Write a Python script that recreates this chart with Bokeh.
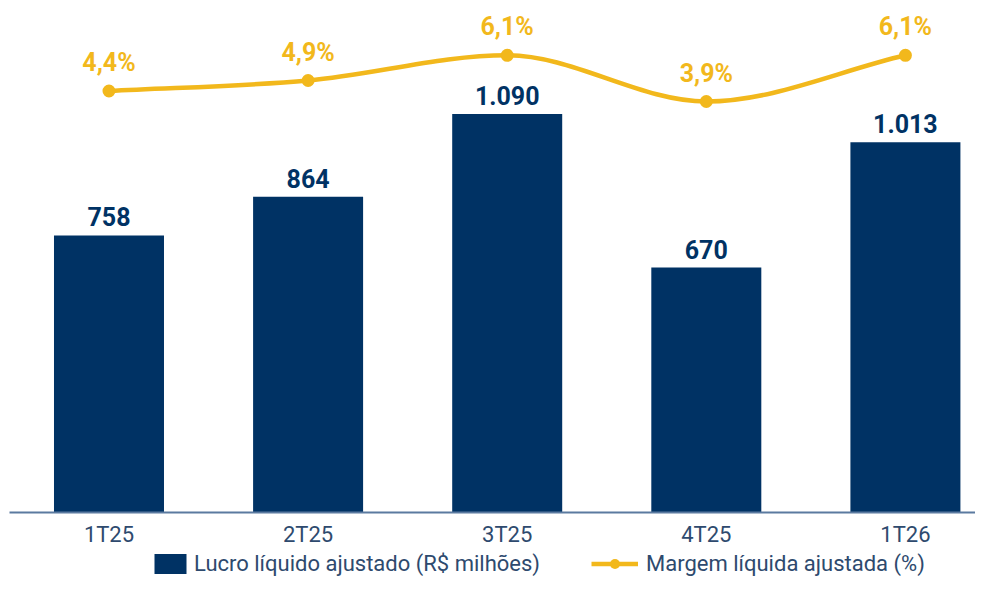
from bokeh.plotting import figure
from bokeh.layouts import column
from bokeh.models import (ColumnDataSource, Range1d, LabelSet, Legend, LegendItem,
                          FixedTicker)
from bokeh.core.properties import value
from bokeh.embed import file_html
from bokeh.resources import INLINE

# ---- data ----
categories = ["1T25", "2T25", "3T25", "4T25", "1T26"]
lucro = [758, 864, 1090, 670, 1013]
lucro_labels = ["758", "864", "1.090", "670", "1.013"]
margem = [4.4, 4.9, 6.1, 3.9, 6.1]
margem_labels = ["4,4%", "4,9%", "6,1%", "3,9%", "6,1%"]
legend_labels = ["Lucro líquido ajustado (R$ milhões)", "Margem líquida ajustada (%)"]

NAVY = "#003264"
YELLOW = "#F2B81C"
TEXT = "#2e4a6e"
FONT = "Roboto"

idx = list(range(len(categories)))

p = figure(frame_width=966, frame_height=512, output_backend="svg", toolbar_location=None,
           x_range=Range1d(-0.4997, 4.352), y_range=Range1d(0, 1400.8),
           y_axis_location=None, min_border_left=9, min_border_right=0,
           min_border_top=0, min_border_bottom=36)
p.outline_line_color = None
p.xgrid.visible = False
p.ygrid.visible = False
p.extra_y_ranges = {"pct": Range1d(-15.67, 8.71)}

# bars
src = ColumnDataSource(dict(x=idx, top=lucro, lab=lucro_labels, m=margem, mlab=margem_labels))
p.vbar(x="x", top="top", width=0.5525, bottom=0, source=src,
       fill_color=NAVY, line_color=None)
p.add_layout(LabelSet(x="x", y="top", text="lab", source=src, y_offset=9,
                      text_align="center", text_baseline="alphabetic",
                      text_font=value(FONT), text_font_style="bold", text_font_size="25px",
                      text_color=NAVY))

# smooth (monotone cubic) line through margin points, drawn as bezier segments
n = len(margem)
d = [margem[k + 1] - margem[k] for k in range(n - 1)]
tang = [d[0]] + [((d[k - 1] + d[k]) / 2 if d[k - 1] * d[k] > 0 else 0.0) for k in range(1, n - 1)] + [d[-1]]
bz = dict(x0=idx[:-1], y0=margem[:-1], x1=idx[1:], y1=margem[1:],
          cx0=[idx[k] + 1 / 3 for k in range(n - 1)],
          cy0=[margem[k] + tang[k] / 3 for k in range(n - 1)],
          cx1=[idx[k + 1] - 1 / 3 for k in range(n - 1)],
          cy1=[margem[k + 1] - tang[k + 1] / 3 for k in range(n - 1)])
p.bezier(x0="x0", y0="y0", x1="x1", y1="y1", cx0="cx0", cy0="cy0", cx1="cx1", cy1="cy1",
         source=ColumnDataSource(bz), line_color=YELLOW, line_width=4.5, y_range_name="pct")
p.scatter(x="x", y="m", source=src, size=13, fill_color=YELLOW, line_color=None,
          y_range_name="pct")
p.add_layout(LabelSet(x="x", y="m", text="mlab", source=src, y_offset=20, y_range_name="pct",
                      text_align="center", text_baseline="alphabetic",
                      text_font=value(FONT), text_font_style="bold", text_font_size="25px",
                      text_color=YELLOW))

# x axis
ax = p.xaxis[0]
ax.ticker = FixedTicker(ticks=idx)
ax.major_label_overrides = {i: c for i, c in zip(idx, categories)}
ax.axis_line_color = "#5b7aa0"
ax.axis_line_width = 2
ax.major_tick_line_color = None
ax.major_tick_out = 0
ax.major_tick_in = 0
ax.minor_tick_line_color = None
ax.minor_tick_out = 0
ax.major_label_standoff = 9
ax.major_label_text_font = FONT
ax.major_label_text_font_size = "22px"
ax.major_label_text_color = TEXT

# legend strip (separate figure so the legend is not clipped)
lf = figure(width=975, height=28, output_backend="svg", toolbar_location=None,
            x_range=Range1d(0, 1), y_range=Range1d(0, 1),
            x_axis_location=None, y_axis_location=None,
            min_border_left=0, min_border_right=0, min_border_top=0, min_border_bottom=0)
lf.outline_line_color = None
lf.xgrid.visible = False
lf.ygrid.visible = False
# legend-only renderers, placed outside the visible range
r_bar = lf.vbar(x=[5], top=[5], bottom=[4], width=0.5, fill_color=NAVY, line_color=None)
r_line = lf.line(x=[5, 6], y=[5, 5], line_color=YELLOW, line_width=4.5)
r_dot = lf.scatter(x=[5], y=[5], size=13, fill_color=YELLOW, line_color=None)

def make_legend(items, loc, gw, standoff):
    lg = Legend(items=items, location=loc, orientation="horizontal",
                glyph_width=gw, glyph_height=25, label_height=25, label_standoff=standoff,
                padding=0, margin=0, spacing=0, border_line_color=None,
                background_fill_alpha=0, label_text_font=FONT,
                label_text_font_size="22px", label_text_color=TEXT)
    lf.add_layout(lg, "center")

make_legend([LegendItem(label=legend_labels[0], renderers=[r_bar])], (141, 1), 40, 4)
make_legend([LegendItem(label=legend_labels[1], renderers=[r_line, r_dot])], (582, 1), 47, 8)

layout = column(p, lf, spacing=0)
open("out.html", "w").write(file_html(layout, INLINE))
